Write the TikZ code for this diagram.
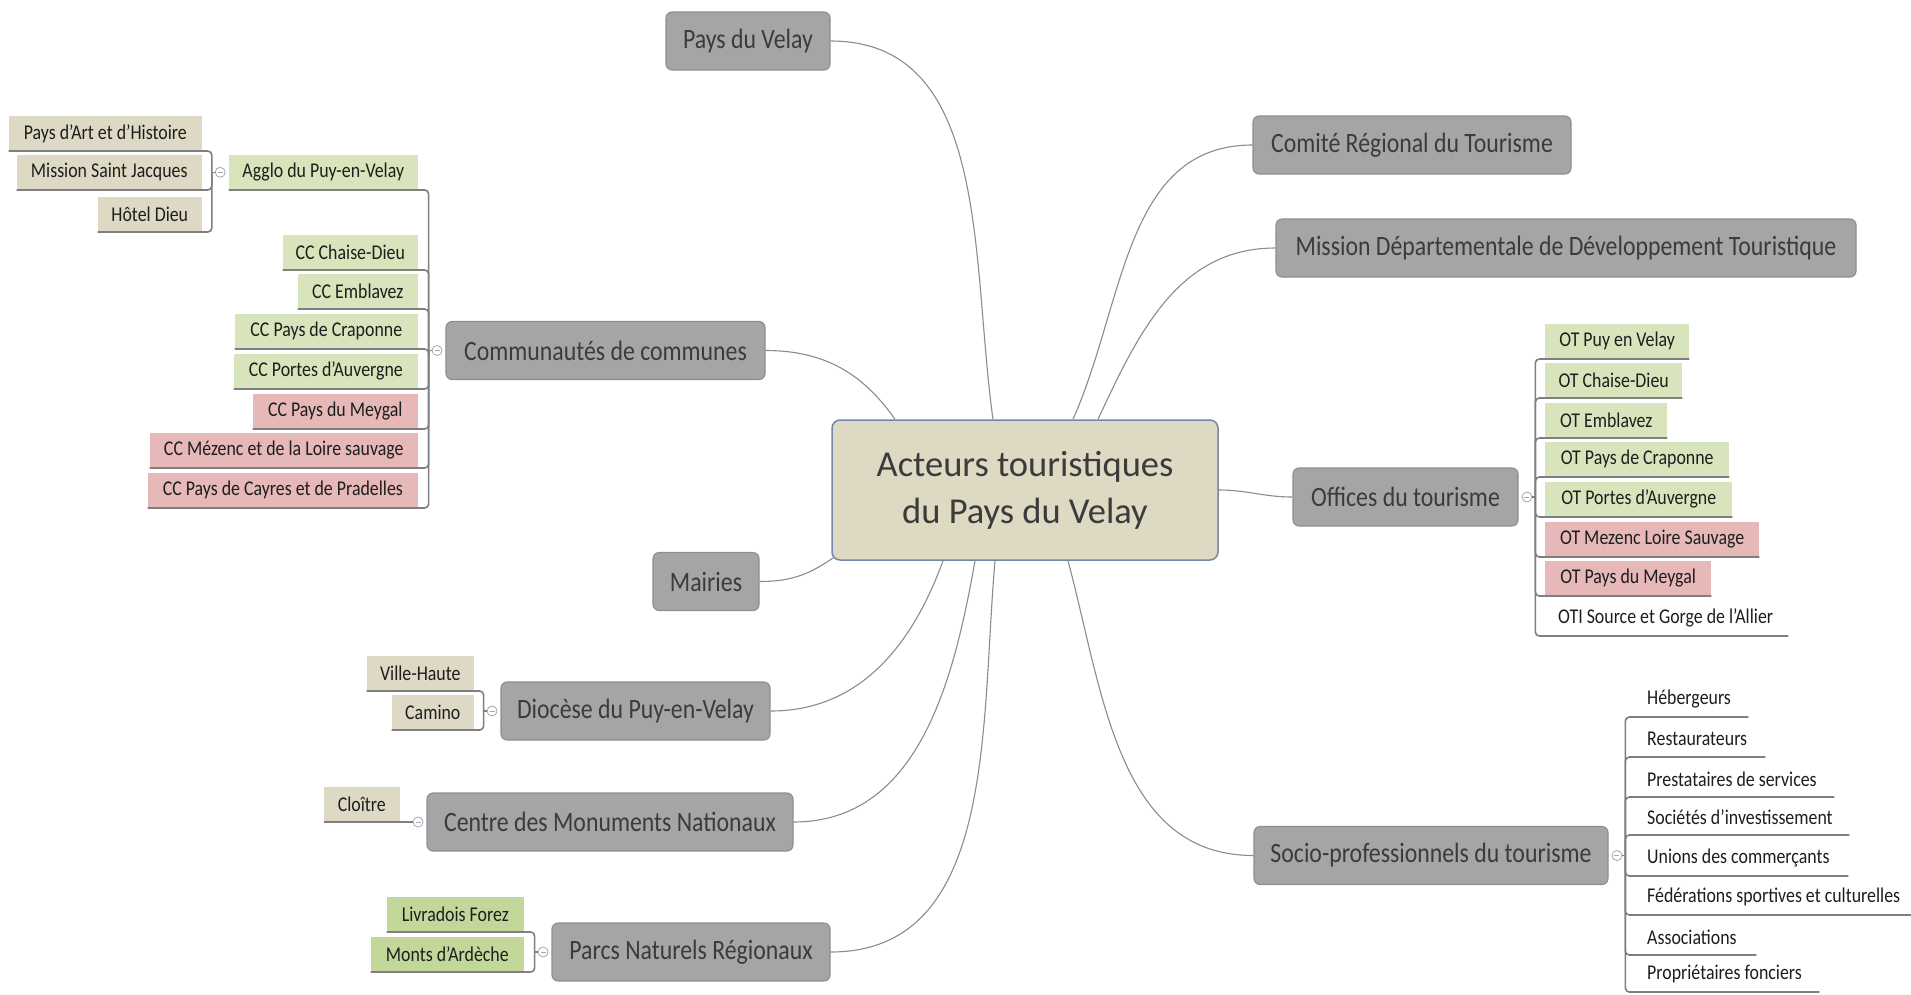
\documentclass[tikz,border=0pt]{standalone}
\usepackage{fontspec}
\setmainfont{Carlito}[FakeStretch=0.85]
\newfontfamily\rootface{Carlito}
\usepackage{tikz}
\usetikzlibrary{positioning}
\usepackage{xcolor}
\definecolor{topicfill}{HTML}{A5A5A5}
\definecolor{topicline}{HTML}{8E8E8E}
\definecolor{topictext}{HTML}{3B3B3B}
\definecolor{rootfill}{HTML}{DDD9C3}
\definecolor{rootline}{HTML}{7587A8}
\definecolor{leaftext}{HTML}{1E1E1E}
\definecolor{tan}{HTML}{DDD9C4}
\definecolor{sage}{HTML}{D8E4BC}
\definecolor{moss}{HTML}{C4D79B}
\definecolor{rose}{HTML}{E6B8B7}
\definecolor{linkgray}{HTML}{8C8C8C}
\definecolor{ulgray}{HTML}{7F7F7F}
\definecolor{ring}{HTML}{A0A8B8}

\tikzset{
  root/.style={draw=rootline, fill=rootfill, line width=1.5pt, rounded corners=8pt,
    text=topictext, align=center, font=\rootface\fontsize{36.5}{47}\selectfont,
    minimum width=386pt, minimum height=140pt, inner sep=0pt},
  topic/.style={draw=topicline, fill=topicfill, line width=1.1pt, rounded corners=6pt,
    text=topictext, font=\fontsize{28}{30}\selectfont, minimum height=58pt, inner sep=0pt},
  leaf/.style={inner sep=0pt, minimum height=35pt, text=leaftext,
    font=\fontsize{21}{24}\selectfont},
  plain/.style={leaf, anchor=south west, inner xsep=11pt,
    execute at begin node={\hbox to #1\bgroup}, execute at end node={\hss\egroup}},
  link/.style={draw=linkgray, line width=1.1pt},
  uline/.style={draw=ulgray, line width=1.6pt, rounded corners=4pt},
  fold/.style={circle, draw=ring, fill=white, line width=0.8pt, minimum size=10pt, inner sep=0pt,
    path picture={\draw[ring, line width=0.8pt] ([xshift=-2.5pt]path picture bounding box.center)
      -- ([xshift=2.5pt]path picture bounding box.center);}}
}

\begin{document}
\begin{tikzpicture}
  \useasboundingbox (0,0) rectangle (1911pt,-994pt);
  \fill[white] (0,0) rectangle (1911pt,-994pt);
  \begin{scope}[x=1pt, y=1pt]
  \node[root] (root) at (1025,-490) {Acteurs touristiques\\du Pays du Velay};

  \node[topic, minimum width=164pt] (vel) at (748,-41) {Pays du Velay};
  \node[topic, minimum width=319pt] (com) at (605.5,-350.5) {Communautés de communes};
  \node[topic, minimum width=106pt] (mai) at (706,-581.5) {Mairies};
  \node[topic, minimum width=269pt] (dio) at (635.5,-711) {Diocèse du Puy-en-Velay};
  \node[topic, minimum width=366pt] (cmn) at (610,-822) {Centre des Monuments Nationaux};
  \node[topic, minimum width=278pt] (pnr) at (691,-952) {Parcs Naturels Régionaux};
  \node[topic, minimum width=318pt] (crt) at (1412,-145) {Comité Régional du Tourisme};
  \node[topic, minimum width=580pt] (mdt) at (1566,-248) {Mission Départementale de Développement Touristique};
  \node[topic, minimum width=225pt] (off) at (1405.5,-497) {Offices du tourisme};
  \node[topic, minimum width=354pt] (soc) at (1431,-855.5) {Socio-professionnels du tourisme};

  \draw[link] (vel.east) to[out=0,in=98] ([xshift=-32pt]root.north);
  \draw[link] (com.east) to[out=0,in=125] ([xshift=-130pt]root.north);
  \draw[link] (crt.west) to[out=180,in=66] ([xshift=48pt]root.north);
  \draw[link] (mdt.west) to[out=180,in=65] ([xshift=73pt]root.north);
  \draw[link] (root.east) to[out=0,in=180] (off.west);
  \draw[link] (mai.east) to[out=0,in=215] ([shift={(2pt,3pt)}]root.south west);
  \draw[link] (dio.east) to[out=0,in=250] ([xshift=-82pt]root.south);
  \draw[link] (cmn.east) to[out=0,in=260] ([xshift=-50pt]root.south);
  \draw[link] (pnr.east) to[out=0,in=265] ([xshift=-30pt]root.south);
  \draw[link] (soc.west) to[out=180,in=285] ([xshift=43pt]root.south);

  % communautes de communes
  \node[leaf, fill=sage, minimum width=189pt, anchor=south east] (agg) at (418,-190) {Agglo du Puy-en-Velay};
  \node[leaf, fill=sage, minimum width=135pt, anchor=south east] (ccc) at (418,-270) {CC Chaise-Dieu};
  \node[leaf, fill=sage, minimum width=120pt, anchor=south east] (cce) at (418,-309) {CC Emblavez};
  \node[leaf, fill=sage, minimum width=183pt, anchor=south east] (ccp) at (418,-349) {CC Pays de Craponne};
  \node[leaf, fill=sage, minimum width=184pt, anchor=south east] (cca) at (418,-389) {CC Portes d’Auvergne};
  \node[leaf, fill=rose, minimum width=165pt, anchor=south east] (ccm) at (418,-429) {CC Pays du Meygal};
  \node[leaf, fill=rose, minimum width=268pt, anchor=south east] (ccz) at (418,-468) {CC Mézenc et de la Loire sauvage};
  \node[leaf, fill=rose, minimum width=270pt, anchor=south east] (ccy) at (418,-508) {CC Pays de Cayres et de Pradelles};
  \node[fold, left=3pt of com] (comC) {};
  \coordinate (comB) at ([xshift=-3pt]comC.west);
  \draw[uline] (comB) -- (comC.west);
  \foreach \n in {agg,ccc,cce,ccp,cca,ccm,ccz,ccy}
    \draw[uline] (comB) |- (\n.south west);

  \node[leaf, fill=tan, minimum width=193pt, anchor=south east] (pah) at (202,-151) {Pays d’Art et d’Histoire};
  \node[leaf, fill=tan, minimum width=185pt, anchor=south east] (msj) at (202,-190) {Mission Saint Jacques};
  \node[leaf, fill=tan, minimum width=104pt, anchor=south east] (hdi) at (202,-232) {Hôtel Dieu};
  \node[fold, left=3pt of agg] (aggC) {};
  \coordinate (aggB) at ([xshift=-3pt]aggC.west);
  \draw[uline] (aggB) -- (aggC.west);
  \foreach \n in {pah,msj,hdi}
    \draw[uline] (aggB) |- (\n.south west);

  % diocese, monuments, parcs
  \node[leaf, fill=tan, minimum width=107pt, anchor=south east] (vh) at (474,-691) {Ville-Haute};
  \node[leaf, fill=tan, minimum width=82pt, anchor=south east] (cam) at (474,-730) {Camino};
  \node[fold, left=3pt of dio] (dioC) {};
  \coordinate (dioB) at ([xshift=-3pt]dioC.west);
  \draw[uline] (dioB) -- (dioC.west);
  \foreach \n in {vh,cam}
    \draw[uline] (dioB) |- (\n.south west);

  \node[leaf, fill=tan, minimum width=76pt, anchor=south east] (clo) at (400,-822) {Cloître};
  \node[fold, left=3pt of cmn] (cmnC) {};
  \draw[uline] (cmnC.west) -- (clo.south west);

  \node[leaf, fill=moss, minimum width=137pt, anchor=south east] (liv) at (524,-932) {Livradois Forez};
  \node[leaf, fill=moss, minimum width=153pt, anchor=south east] (mon) at (524,-972) {Monts d’Ardèche};
  \node[fold, left=3pt of pnr] (pnrC) {};
  \coordinate (pnrB) at ([xshift=-3pt]pnrC.west);
  \draw[uline] (pnrB) -- (pnrC.west);
  \foreach \n in {liv,mon}
    \draw[uline] (pnrB) |- (\n.south west);

  % offices du tourisme
  \node[leaf, fill=sage, minimum width=144pt, anchor=south west] (otp) at (1545,-359) {OT Puy en Velay};
  \node[leaf, fill=sage, minimum width=137pt, anchor=south west] (otc) at (1545,-398) {OT Chaise-Dieu};
  \node[leaf, fill=sage, minimum width=122pt, anchor=south west] (ote) at (1545,-438) {OT Emblavez};
  \node[leaf, fill=sage, minimum width=184pt, anchor=south west] (otr) at (1545,-477) {OT Pays de Craponne};
  \node[leaf, fill=sage, minimum width=187pt, anchor=south west] (ota) at (1545,-517) {OT Portes d’Auvergne};
  \node[leaf, fill=rose, minimum width=214pt, anchor=south west] (otm) at (1545,-557) {OT Mezenc Loire Sauvage};
  \node[leaf, fill=rose, minimum width=166pt, anchor=south west] (oty) at (1545,-596) {OT Pays du Meygal};
  \node[plain=217pt, inner xsep=13pt] (oti) at (1545,-636) {OTI Source et Gorge de l’Allier};
  \node[fold, right=3pt of off] (offC) {};
  \coordinate (offB) at ([xshift=3pt]offC.east);
  \draw[uline] (offC.east) -- (offB);
  \foreach \n in {otp,otc,ote,otr,ota,otm,oty,oti}
    \draw[uline] (offB) |- (\n.south east);

  % socio-professionnels
  \node[plain=90pt] (heb) at (1636,-717) {Hébergeurs};
  \node[plain=107pt] (res) at (1636,-757) {Restaurateurs};
  \node[plain=176pt] (pre) at (1636,-797) {Prestataires de services};
  \node[plain=191pt] (sin) at (1636,-835) {Sociétés d’investissement};
  \node[plain=190pt] (uni) at (1636,-876) {Unions des commerçants};
  \node[plain=253pt] (fed) at (1636,-915) {Fédérations sportives et culturelles};
  \node[plain=98pt] (ass) at (1636,-955) {Associations};
  \node[plain=161pt] (pro) at (1636,-992) {Propriétaires fonciers};
  \node[fold, right=3pt of soc] (socC) {};
  \coordinate (socB) at ([xshift=3pt]socC.east);
  \draw[uline] (socC.east) -- (socB);
  \foreach \n in {heb,res,pre,sin,uni,fed,ass,pro}
    \draw[uline] (socB) |- (\n.south east);
  \end{scope}
\end{tikzpicture}
\end{document}
